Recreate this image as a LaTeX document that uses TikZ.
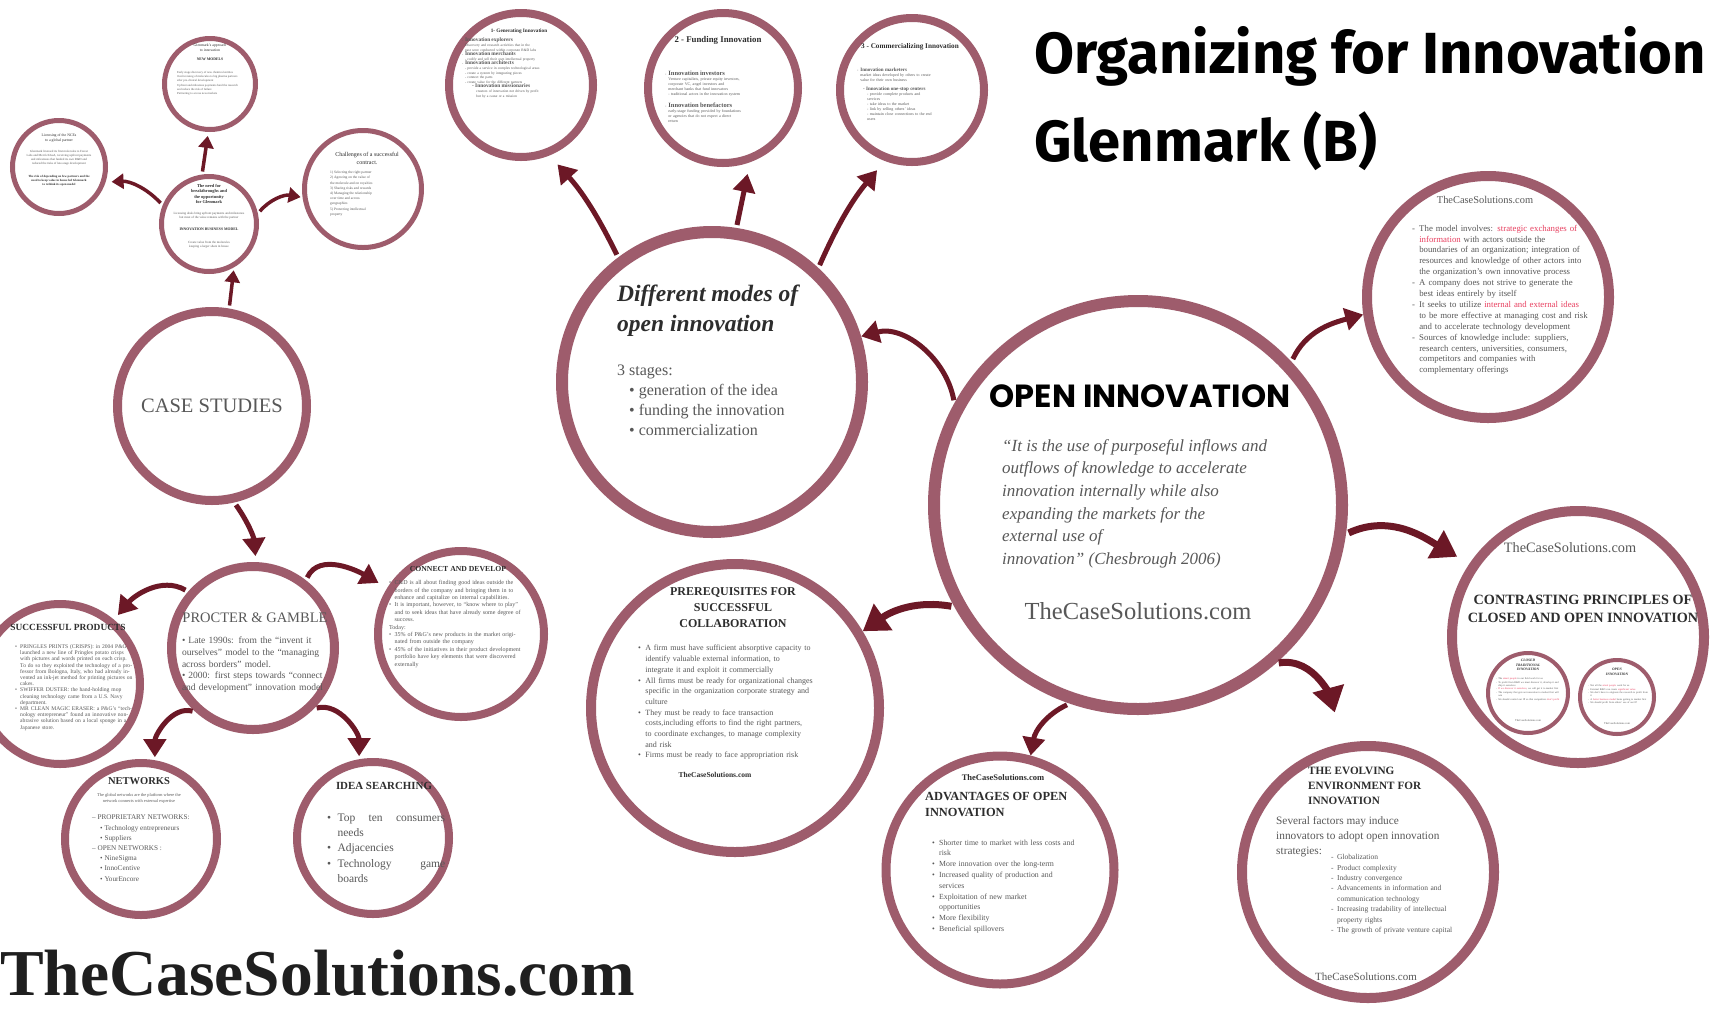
\documentclass[tikz,border=0pt]{standalone}
\usepackage{fontspec}
\setmainfont{Liberation Serif}
\newfontfamily\titlefont{Poppins}
\newfontfamily\handfont{Fira Sans}
\usetikzlibrary{positioning,arrows.meta}

\definecolor{ringcol}{RGB}{158,92,108}
\definecolor{arrowred}{RGB}{108,24,38}
\definecolor{bodygray}{RGB}{88,88,88}
\definecolor{headgray}{RGB}{45,45,45}
\definecolor{hilite}{RGB}{232,64,96}

\newcommand\fsz[2]{\fontsize{#1}{#2}\selectfont}
\newcommand\nl{\hfil\break}
\newcommand\bitem[1]{\par\noindent\hangindent=0.9em\hangafter=1\makebox[0.9em][l]{\textbullet}#1\par}
\newcommand\ditem[1]{\par\noindent\hangindent=0.8em\hangafter=1\makebox[0.8em][l]{-}#1\par}

\begin{document}
\begin{tikzpicture}[x=1pt, y=1pt,
    bubble/.style={circle, draw=ringcol, line width=#1, fill=white, inner sep=0pt},
    arr/.style={draw=arrowred, line width=5pt, -{Triangle[length=18pt,width=22pt]}, shorten <=3pt},
    bigarr/.style={arr, line width=7pt, -{Triangle[length=25pt,width=31pt]}},
    smallarr/.style={arr, line width=3.5pt, -{Triangle[length=12pt,width=15pt]}},
    txt/.style={inner sep=0pt, text=bodygray},
    heading/.style={inner sep=0pt, text=headgray},
    para/.style={txt, text width=#1}
]
\useasboundingbox (0,0) rectangle (1711,-1013);
\fill[white] (0,0) rectangle (1711,-1013);

% title
\node[anchor=base west, inner sep=0pt, font=\handfont\bfseries\fsz{58}{62}] (title) at (1034,-73) {Organizing for Innovation};
\node[anchor=base west, inner sep=0pt, font=\handfont\bfseries\fsz{58}{62}] (subtitle) at (1034,-161) {Glenmark (B)};
\node[anchor=base west, inner sep=0pt, font=\bfseries\fsz{65.5}{66}, text=black!88] (brand) at (0,-995) {TheCaseSolutions.com};

% circles
\node[bubble=5pt, minimum size=95pt] (hub) at (209,-224) {};
\node[bubble=5pt, minimum size=91pt] (models) at (210,-84) {};
\node[bubble=5pt, minimum size=93pt] (licensing) at (59,-167) {};
\node[bubble=5pt, minimum size=117pt] (contract) at (363,-189) {};
\node[bubble=9pt, minimum size=189pt] (cases) at (212,-406) {};
\node[bubble=9pt, minimum size=163pt] (pg) at (253,-648) {};
\node[bubble=8pt, minimum size=160pt] (succ) at (60,-684) {};
\node[bubble=8pt, minimum size=166pt] (cnd) at (461,-634) {};
\node[bubble=8pt, minimum size=152pt] (netw) at (141,-839) {};
\node[bubble=8pt, minimum size=152pt] (idea) at (373,-838) {};
\node[bubble=12pt, minimum size=300pt] (modes) at (712,-382) {};
\node[bubble=8pt, minimum size=144pt] (gen) at (521,-85) {};
\node[bubble=8pt, minimum size=150pt] (fund) at (723,-88) {};
\node[bubble=8pt, minimum size=144pt] (comm) at (912,-90) {};
\node[bubble=10pt, minimum size=242pt] (model) at (1488,-297) {};
\node[bubble=12pt, minimum size=408pt] (oi) at (1138,-505) {};
\node[bubble=10pt, minimum size=252pt] (contr) at (1578,-637) {};
\node[bubble=4pt, minimum size=80pt] (closedc) at (1528,-693) {};
\node[bubble=4pt, minimum size=74pt] (openc) at (1617,-697) {};
\node[bubble=10pt, minimum size=288pt] (prereq) at (735,-708) {};
\node[bubble=9pt, minimum size=228pt] (adv) at (1000,-870) {};
\node[bubble=10pt, minimum size=252pt] (evo) at (1368,-872) {};

% small cluster above the case studies
\node[heading, align=center, font=\bfseries\fsz{4.4}{5.6}] at (209,-194) {The need for\\breakthroughs and\\the opportunity\\for Glenmark};
\node[txt, align=center, font=\fsz{3.2}{4.4}] at (209,-216) {Licensing deals bring upfront payments and milestones\\but most of the value remains with the partner};
\node[heading, font=\bfseries\fsz{3.8}{4.4}] at (209,-229) {INNOVATION BUSINESS MODEL};
\node[txt, align=center, font=\fsz{3.2}{4.4}] at (209,-245) {Create value from the molecules\\keeping a larger share in house};

\node[heading, align=center, font=\fsz{3.8}{5}] at (210,-48) {Glenmark's approach\\to innovation};
\node[heading, font=\bfseries\fsz{3.8}{5}] at (210,-59) {NEW MODELS};
\node[txt, anchor=north west, align=left, font=\fsz{3}{4.3}] at (177,-71) {Early stage discovery of new chemical entities\\Out-licensing of molecules to big pharma partners\\after pre-clinical development\\Upfront and milestone payments fund the research\\and reduce the risk of failure\\Partnering to access new markets};

\node[heading, align=center, font=\fsz{3.8}{4.6}] at (59,-138) {Licensing of the NCEs\\to a global partner};
\node[txt, align=center, font=\fsz{3.1}{4}] at (59,-158) {Glenmark licensed its first molecules to Forest\\Labs and Merck KGaA, receiving upfront payments\\and milestones that funded its own R\&D and\\reduced the risks of late-stage development};
\node[heading, align=center, font=\bfseries\fsz{3.1}{4}] at (59,-181) {The risk of depending on few partners and the\\need to keep value in house led Glenmark\\to rethink its open model};

\node[heading, align=center, font=\fsz{6}{8}] at (367,-158) {Challenges of a successful\\contract.};
\node[txt, anchor=north west, align=left, font=\fsz{3.6}{5.2}] at (330,-171) {1) Selecting the right partner\\2) Agreeing on the value of\\the molecule and on royalties\\3) Sharing risks and rewards\\4) Managing the relationship\\over time and across\\geographies\\5) Protecting intellectual\\property};

% case studies and P&G
\node[txt, font=\fsz{20.5}{24}] at (cases) {CASE STUDIES};
\node[txt, font=\fsz{14.5}{16}] (pgtitle) at (255,-618) {PROCTER \& GAMBLE};
\node[para=146pt, font=\fsz{9.5}{11.6}, below=14pt of pgtitle] (pgtext) {\noindent\textbullet\ Late 1990s: from the “invent it\linebreak ourselves” model to the “managing\linebreak across borders” model.\par\noindent\textbullet\ 2000: first steps towards “connect\linebreak and development” innovation model\par};

\node[heading, font=\bfseries\fsz{9.4}{10}] at (68,-627) {SUCCESSFUL PRODUCTS};
\node[para=118pt, anchor=north west, font=\fsz{5.6}{6.2}] at (15,-642) {\bitem{PRINGLES PRINTS (CRISPS): in 2004 P\&G launched a new line of Pringles potato crisps with pictures and words printed on each crisp. To do so they exploited the technology of a professor from Bologna, Italy, who had already invented an ink-jet method for printing pictures on cakes.}\bitem{SWIFFER DUSTER: the hand-holding mop cleaning technology came from a U.S. Navy department.}\bitem{MR CLEAN MAGIC ERASER: a P\&G's “technology entrepreneur” found an innovative non-abrasive solution based on a local sponge in a Japanese store.}};

\node[heading, font=\bfseries\fsz{7.7}{9}] (cndtitle) at (458,-569) {CONNECT AND DEVELOP};
\node[para=132pt, anchor=north west, font=\fsz{6}{7.4}] at (389,-577) {\bitem{C\&D is all about finding good ideas outside the borders of the company and bringing them in to enhance and capitalize on internal capabilities.}\bitem{It is important, however, to “know where to play” and to seek ideas that have already some degree of success.}\noindent Today:\bitem{35\% of P\&G's new products in the market originated from outside the company}\bitem{45\% of the initiatives in their product development portfolio have key elements that were discovered externally}};

\node[heading, font=\bfseries\fsz{10.5}{12}] at (139,-781) {NETWORKS};
\node[txt, align=center, font=\fsz{4.4}{6}] at (139,-798) {The global networks are the platform where the\\network connects with external expertise};
\node[txt, anchor=north west, align=left, font=\fsz{7.2}{10.2}] at (92,-815) {– PROPRIETARY NETWORKS:\\\hspace*{8pt}\textbullet\ Technology entrepreneurs\\\hspace*{8pt}\textbullet\ Suppliers\\– OPEN NETWORKS :\\\hspace*{8pt}\textbullet\ NineSigma\\\hspace*{8pt}\textbullet\ InnoCentive\\\hspace*{8pt}\textbullet\ YourEncore};

\node[heading, font=\bfseries\fsz{10.9}{12}] at (384,-786) {IDEA SEARCHING};
\node[para=118pt, anchor=north west, font=\fsz{11.5}{15.2}] at (327,-806) {\bitem{Top\hfill ten\hfill consumers\nl needs}\bitem{Adjacencies}\bitem{Technology\hfill game\nl boards}};

% modes of open innovation
\node[heading, anchor=north west, align=left, font=\bfseries\itshape\fsz{23.5}{30}] (modestitle) at (617,-285) {Different modes of\\open innovation};
\node[txt, anchor=north west, align=left, font=\fsz{16}{20}] (stages) at (617,-365) {3 stages:\\\hspace*{12pt}\textbullet\ generation of the idea\\\hspace*{12pt}\textbullet\ funding the innovation\\\hspace*{12pt}\textbullet\ commercialization};

\node[heading, font=\bfseries\fsz{5.2}{6}] at (519,-31) {1- Generating Innovation};
\node[para=112pt, anchor=north west, font=\fsz{3.6}{4.6}] at (462,-37) {\ditem{{\bfseries\fsz{5.4}{5.6}Innovation explorers}\nl Discovery and research activities that in the\nl past were conducted within corporate R\&D labs}\ditem{{\bfseries\fsz{5.4}{5.6}Innovation merchants}\nl - codify and sell their own intellectual property}\ditem{{\bfseries\fsz{5.4}{5.6}Innovation architects}\nl - provide a service in complex technological areas\nl - create a system by integrating pieces\nl - connect the parts\nl - create value for the different partners}\noindent\hspace*{10pt}{\bfseries\fsz{5.4}{5.6}- Innovation missionaries}\nl\hspace*{14pt}creators of innovation not driven by profit\nl\hspace*{14pt}but by a cause or a mission};

\node[heading, font=\bfseries\fsz{8.8}{10}] at (718,-40) {2 - Funding Innovation};
\node[para=120pt, anchor=north west, font=\fsz{4}{5}] at (665,-70) {\ditem{{\bfseries\fsz{6.5}{7}Innovation investors}\nl Venture capitalists, private equity investors,\nl corporate VC, angel investors and\nl merchant banks that fund innovators\nl - traditional actors in the innovation system}\vspace{6pt}\ditem{{\bfseries\fsz{6.5}{7}Innovation benefactors}\nl early-stage funding provided by foundations\nl or agencies that do not expect a direct\nl return}};

\node[heading, font=\bfseries\fsz{7.2}{8}] at (910,-47) {3 - Commercializing Innovation};
\node[para=112pt, anchor=north west, font=\fsz{4}{5}] at (857,-66) {\ditem{{\bfseries\fsz{5}{6}Innovation marketers}\nl market ideas developed by others to create\nl value for their own business}\vspace{4pt}\noindent\hspace*{6pt}{\bfseries\fsz{5}{6}- Innovation one-stop centers}\nl\hspace*{10pt}- provide complete products and\nl\hspace*{10pt}services\nl\hspace*{10pt}- take ideas to the market\nl\hspace*{10pt}- link by selling others' ideas\nl\hspace*{10pt}- maintain close connections to the end\nl\hspace*{10pt}users};

% open innovation
\node[inner sep=0pt, font=\titlefont\bfseries\fsz{32}{34}, text=black] (oititle) at (1140,-396) {OPEN INNOVATION};
\node[txt, anchor=north west, align=left, font=\itshape\fsz{17}{22.7}] (quote) at (1002,-439) {“It is the use of purposeful inflows and\\outflows of knowledge to accelerate\\innovation internally while also\\expanding the markets for the\\external use of\\innovation” (Chesbrough 2006)};
\node[txt, font=\fsz{24.5}{26}] at (1138,-611) {TheCaseSolutions.com};

\node[txt, font=\fsz{10.4}{12}] at (1485,-200) {TheCaseSolutions.com};
\node[para=200pt, anchor=north west, font=\fsz{8.8}{10.9}] at (1412,-220) {\ditem{The model involves: \textcolor{hilite}{strategic exchanges of}\nl\textcolor{hilite}{information} with actors outside the\nl boundaries of an organization; integration of\nl resources and knowledge of other actors into\nl the organization's own innovative process}\ditem{A company does not strive to generate the\nl best ideas entirely by itself}\ditem{It seeks to utilize \textcolor{hilite}{internal and external ideas}\nl to be more effective at managing cost and risk\nl and to accelerate technology development}\ditem{Sources of knowledge include: suppliers,\nl research centers, universities, consumers,\nl competitors and companies with\nl complementary offerings}};

\node[txt, font=\fsz{14.3}{16}] at (1570,-548) {TheCaseSolutions.com};
\node[heading, align=center, font=\bfseries\fsz{14.2}{18}] at (1583,-609) {CONTRASTING PRINCIPLES OF\\CLOSED AND OPEN INNOVATION};
\node[heading, align=center, font=\bfseries\itshape\fsz{3.6}{4.4}] at (1528,-665) {CLOSED\\TRADITIONAL\\INNOVATION};
\node[para=66pt, anchor=north west, font=\fsz{2.6}{3.4}] at (1496,-676) {\ditem{The \textcolor{hilite}{smart people} in our field work for us}\ditem{To profit from R\&D we must discover it, develop it and ship it ourselves}\ditem{\textcolor{hilite}{If we discover it ourselves}, we will get it to market first}\ditem{The company that gets an innovation to market first will win}\ditem{We should control our IP so that competitors \textcolor{hilite}{don't profit}}};
\node[txt, font=\fsz{2.8}{3}] at (1528,-721) {TheCaseSolutions.com};
\node[heading, align=center, font=\bfseries\itshape\fsz{3.6}{4.4}] at (1617,-672) {OPEN\\INNOVATION};
\node[para=60pt, anchor=north west, font=\fsz{2.6}{3.4}] at (1588,-683) {\ditem{Not all the \textcolor{hilite}{smart people} work for us}\ditem{External R\&D can create \textcolor{hilite}{significant value}}\ditem{We don't have to originate the research to profit from it}\ditem{A \textcolor{hilite}{better business model} beats getting to market first}\ditem{We should profit from others' use of our IP}};
\node[txt, font=\fsz{2.8}{3}] at (1617,-724) {TheCaseSolutions.com};

\node[heading, align=center, font=\bfseries\fsz{12}{16}] at (733,-608) {PREREQUISITES FOR\\SUCCESSFUL\\COLLABORATION};
\node[para=196pt, anchor=north west, font=\fsz{8}{10.7}] at (638,-640) {\bitem{A firm must have sufficient absorptive capacity to\nl identify valuable external information, to\nl integrate it and exploit it commercially}\bitem{All firms must be ready for organizational changes\nl specific in the organization corporate strategy and\nl culture}\bitem{They must be ready to face transaction\nl costs,including efforts to find the right partners,\nl to coordinate exchanges, to manage complexity\nl and risk}\bitem{Firms must be ready to face appropriation risk}};
\node[heading, font=\bfseries\fsz{7.5}{9}] at (715,-775) {TheCaseSolutions.com};

\node[heading, font=\bfseries\fsz{8.5}{10}] at (1003,-778) {TheCaseSolutions.com};
\node[heading, anchor=north west, align=left, font=\bfseries\fsz{12.4}{16}] at (925,-792) {ADVANTAGES OF OPEN\\INNOVATION};
\node[para=165pt, anchor=north west, font=\fsz{7.8}{10.8}] at (932,-834) {\bitem{Shorter time to market with less costs and\nl risk}\bitem{More innovation over the long-term}\bitem{Increased quality of production and\nl services}\bitem{Exploitation of new market\nl opportunities}\bitem{More flexibility}\bitem{Beneficial spillovers}};

\node[heading, anchor=north west, align=left, font=\bfseries\fsz{11.2}{15}] at (1308,-767) {THE EVOLVING\\ENVIRONMENT FOR\\INNOVATION};
\node[txt, anchor=north west, align=left, font=\fsz{11.3}{15}] at (1276,-816) {Several factors may induce\\innovators to adopt open innovation\\strategies:};
\node[para=160pt, anchor=north west, font=\fsz{7.5}{10.4}] at (1331,-849) {\ditem{Globalization}\ditem{Product complexity}\ditem{Industry convergence}\ditem{Advancements in information and\nl communication technology}\ditem{Increasing tradability of intellectual\nl property rights}\ditem{The growth of private venture capital}};
\node[txt, font=\fsz{11}{12}] at (1366,-977) {TheCaseSolutions.com};

% arrows
\draw[smallarr, shorten >=3pt] (cases.80) -- (hub.300);
\draw[smallarr, shorten >=4pt] (hub.98) -- (models.268);
\draw[smallarr, shorten >=6pt] (hub.158) to[bend right=25] (licensing.342);
\draw[smallarr, shorten >=2pt] (hub.12) to[bend left=30] (contract.188);

\draw[arr, shorten >=6pt] (cases.283) to[bend left=15] (pg.88);
\draw[arr, shorten >=6pt] (pg.139) to[out=150,in=50] (succ.50);
\draw[arr, shorten >=10pt] (pg.52) to[out=65,in=150] (cnd.148);
\draw[arr, shorten >=3pt] (pg.228) to[out=165,in=90] (netw.80);
\draw[arr, shorten >=3pt] (pg.315) to[out=15,in=90] (idea.100);

\draw[arr, shorten >=12pt] (modes.127) to[bend right=8] (gen.292);
\draw[arr, shorten >=12pt] (modes.81) -- (fund.290);
\draw[arr, shorten >=12pt] (modes.47) to[bend left=8] (comm.249);

\draw[arr] (oi.151) to[out=100,in=15] (modes.17);
\draw[bigarr] (oi.209) to[out=170,in=35] (prereq.31);
\draw[arr] (oi.251) to[out=205,in=80] (adv.75);
\draw[bigarr, shorten >=32pt] (oi.311) to[out=10,in=105] (evo.101);
\draw[bigarr, shorten >=14pt] (oi.352) to[out=25,in=150] (contr.146);
\draw[arr] (oi.43) to[out=65,in=195] (model.188);
\end{tikzpicture}
\end{document}
